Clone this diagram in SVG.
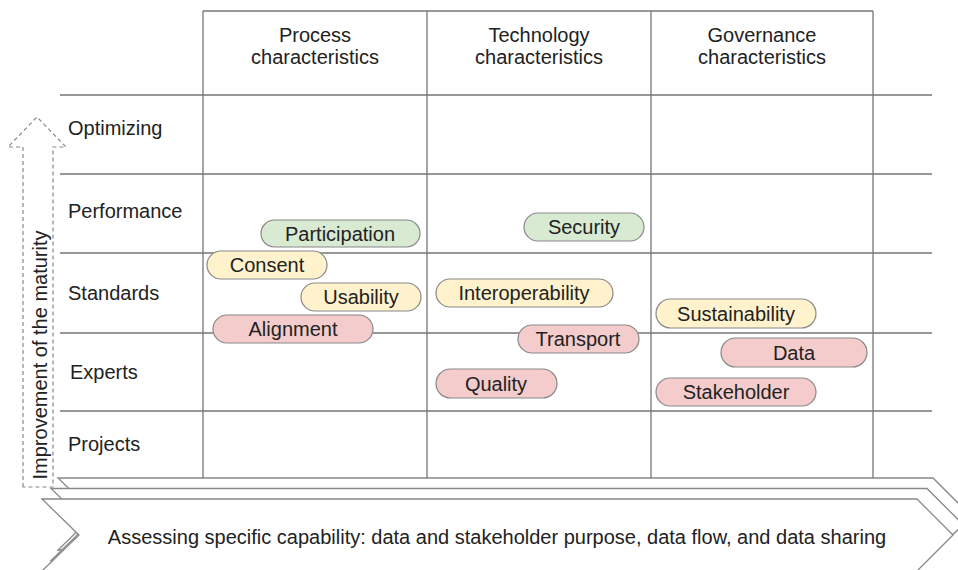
<svg xmlns="http://www.w3.org/2000/svg" width="958" height="570" viewBox="0 0 958 570">
<style>
text{font-family:"Liberation Sans",Arial,sans-serif;fill:#222;font-size:20px}
.grid{stroke:#777;stroke-width:1.3;fill:none}
.chev{fill:#fff;stroke:#888;stroke-width:1.3}
.pill{stroke:#888;stroke-width:1.2}
.g{fill:#d9ead3}.y{fill:#fff2cc}.r{fill:#f4cccc}
.c{text-anchor:middle;dominant-baseline:central}
.l{dominant-baseline:central}
</style>
<rect width="958" height="570" fill="#fff"/>
<g id="chevrons">
<path class="chev" d="M58,478 H933 L969,514 L933,550 H58 L95,514 Z"/>
<path class="chev" d="M51,488.5 H927 L963,524.5 L927,560.5 H51 L88,524.5 Z"/>
<path class="chev" d="M42,499 H917 L953,535 L917,571 H42 L79,535 Z"/>
<text class="c" x="497" y="537">Assessing specific capability: data and stakeholder purpose, data flow, and data sharing</text>
</g>
<g id="grid">
<path class="grid" d="M203,11 H873 M60,95 H932 M60,174 H932 M60,253 H932 M60,333 H932 M60,411 H932"/>
<path class="grid" d="M203,11 V478 M427,11 V478 M651,11 V478 M873,11 V478"/>
</g>
<g id="maturity-arrow">
<path d="M23,487 V147 H8 L37,117 L66,147 H53 V487 Z" fill="#fff" stroke="#888" stroke-width="1.2" stroke-dasharray="4 3"/>
<text class="c" transform="translate(40,355) rotate(-90)">Improvement of the maturity</text>
</g>
<g id="headers">
<text class="c" x="315" y="35">Process</text><text class="c" x="315" y="57">characteristics</text>
<text class="c" x="539" y="35">Technology</text><text class="c" x="539" y="57">characteristics</text>
<text class="c" x="762" y="35">Governance</text><text class="c" x="762" y="57">characteristics</text>
</g>
<g id="rows">
<text class="l" x="68" y="128">Optimizing</text>
<text class="l" x="68" y="211">Performance</text>
<text class="l" x="68" y="293">Standards</text>
<text class="l" x="70" y="372">Experts</text>
<text class="l" x="68" y="444">Projects</text>
</g>
<g id="pill-participation"><rect class="pill g" x="261" y="220" width="159" height="27" rx="13.5"/><text class="c" x="340" y="234">Participation</text></g>
<g id="pill-consent"><rect class="pill y" x="207" y="251" width="120" height="28" rx="14"/><text class="c" x="267" y="265">Consent</text></g>
<g id="pill-usability"><rect class="pill y" x="301" y="283" width="120" height="28" rx="14"/><text class="c" x="361" y="297">Usability</text></g>
<g id="pill-alignment"><rect class="pill r" x="213" y="315" width="160" height="28" rx="14"/><text class="c" x="293" y="329">Alignment</text></g>
<g id="pill-security"><rect class="pill g" x="524" y="213" width="120" height="28" rx="14"/><text class="c" x="584" y="227">Security</text></g>
<g id="pill-interoperability"><rect class="pill y" x="436" y="279" width="177" height="28" rx="14"/><text class="c" x="524" y="293">Interoperability</text></g>
<g id="pill-transport"><rect class="pill r" x="518" y="325" width="121" height="28" rx="14"/><text class="c" x="578" y="339">Transport</text></g>
<g id="pill-quality"><rect class="pill r" x="436" y="369" width="121" height="29" rx="14.5"/><text class="c" x="496" y="383.5">Quality</text></g>
<g id="pill-sustainability"><rect class="pill y" x="656" y="299" width="160" height="29" rx="14.5"/><text class="c" x="736" y="313.5">Sustainability</text></g>
<g id="pill-data"><rect class="pill r" x="721" y="338" width="146" height="29" rx="14.5"/><text class="c" x="794" y="352.5">Data</text></g>
<g id="pill-stakeholder"><rect class="pill r" x="656" y="378" width="160" height="28" rx="14"/><text class="c" x="736" y="392">Stakeholder</text></g>
</svg>
